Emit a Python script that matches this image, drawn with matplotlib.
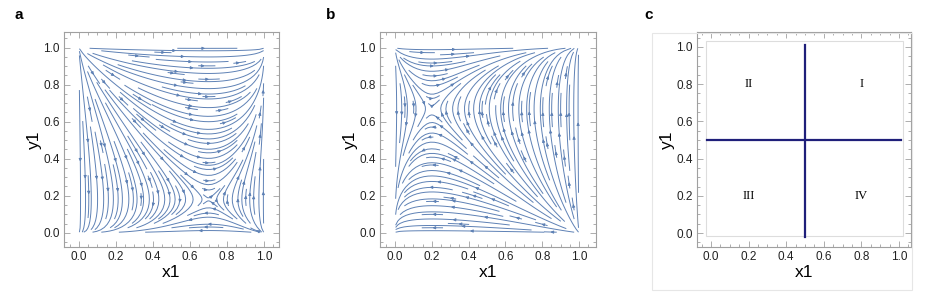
import numpy as np
import matplotlib
matplotlib.use('Agg')
import matplotlib.pyplot as plt
from matplotlib.ticker import MultipleLocator
from matplotlib.patches import Rectangle

plt.rcParams['font.family'] = ['Liberation Sans', 'DejaVu Sans']

saddle_a = [0.70, 0.18]
saddle_b = [0.20, 0.67]

# panel c: dividing lines and quadrant labels
split_x = 0.5
split_y = 0.5
quad_names = ['I', 'II', 'III', 'IV']
quad_x = [0.8, 0.2, 0.2, 0.8]
quad_y = [0.8, 0.8, 0.2, 0.2]

ticks = [0.0, 0.2, 0.4, 0.6, 0.8, 1.0]
stream_col = '#5e81b5'
frame_col = '#a0a0a0'


def style_frame(ax, xlim, ylim):
    ax.set_xlim(*xlim)
    ax.set_ylim(*ylim)
    ax.set_xticks(ticks)
    ax.set_yticks(ticks)
    ax.set_xticklabels(['{:.1f}'.format(t) for t in ticks])
    ax.set_yticklabels(['{:.1f}'.format(t) for t in ticks])
    ax.xaxis.set_minor_locator(MultipleLocator(0.05))
    ax.yaxis.set_minor_locator(MultipleLocator(0.05))
    ax.tick_params(which='both', direction='in', top=True, right=True,
                   color=frame_col, width=0.6, labelsize=8.5, pad=3,
                   labelcolor='#222222')
    ax.tick_params(which='major', length=4)
    ax.tick_params(which='minor', length=2)
    for s in ax.spines.values():
        s.set_color(frame_col)
        s.set_linewidth(0.8)
    ax.set_xlabel('x1', fontsize=12.5, labelpad=1)
    ax.set_ylabel('y1', fontsize=12.5, labelpad=1)


def field(sx, sy):
    g = np.linspace(0.003, 0.997, 150)
    X, Y = np.meshgrid(g, g)
    U = X * (1 - X) * (Y - sy)
    V = Y * (1 - Y) * (X - sx)
    return g, U, V


fig = plt.figure(figsize=(9.27, 2.93), dpi=100)
ax_a = fig.add_axes([64/927, 46/293, 215/927, 215/293])
ax_b = fig.add_axes([380/927, 46/293, 216/927, 215/293])
ax_c = fig.add_axes([697/927, 46/293, 214/927, 215/293])

for ax, sad in [(ax_a, saddle_a), (ax_b, saddle_b)]:
    g, U, V = field(sad[0], sad[1])
    kw = dict(density=1.45, color=stream_col, linewidth=0.7,
              arrowsize=0.4, arrowstyle='-|>', minlength=0.06)
    try:
        ax.streamplot(g, g, U, V, num_arrows=6, **kw)
    except TypeError:
        ax.streamplot(g, g, U, V, **kw)

style_frame(ax_a, (-0.08, 1.08), (-0.077, 1.085))
style_frame(ax_b, (-0.082, 1.092), (-0.077, 1.085))
style_frame(ax_c, (-0.074, 1.064), (-0.075, 1.08))

# panel c
ax_c.add_patch(Rectangle((-0.027, -0.016), 1.05, 1.045, fill=False,
                         ec='#dddddd', lw=0.8))
ax_c.plot([split_x, split_x], [-0.02, 1.01], color='#1f1f7a', lw=1.6)
ax_c.plot([-0.02, 1.01], [split_y, split_y], color='#1f1f7a', lw=1.6)
for name, qx, qy in zip(quad_names, quad_x, quad_y):
    ax_c.text(qx, qy, name, ha='center', va='center', fontsize=9,
              family=['Liberation Serif', 'DejaVu Serif'])

# light border around panel c
fig.patches.append(Rectangle((652/927, 3/293), 260/927, 257/293, fill=False,
                             ec='#e6e6e6', lw=0.8, transform=fig.transFigure))

fig.text(19/927, 1 - 15/293, 'a', fontsize=11, weight='bold', ha='center', va='center')
fig.text(331/927, 1 - 15/293, 'b', fontsize=11, weight='bold', ha='center', va='center')
fig.text(649/927, 1 - 15/293, 'c', fontsize=11, weight='bold', ha='center', va='center')

plt.savefig('out.png', dpi=100)
